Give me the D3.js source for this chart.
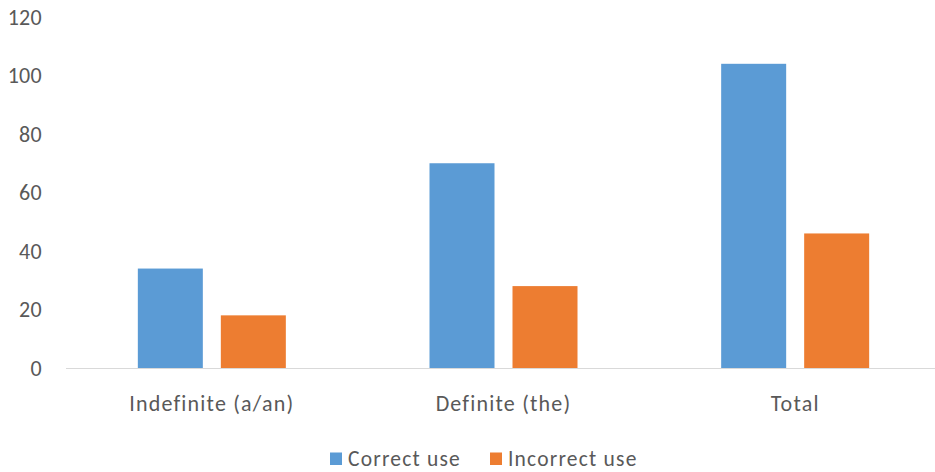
<!DOCTYPE html>
<html><head><meta charset="utf-8">
<script src="https://cdn.jsdelivr.net/npm/d3@7"></script>
<style>
html,body{margin:0;padding:0;background:#fff;}
text{font-family:Carlito,"Liberation Sans",Arial,sans-serif;fill:#595959;}
</style></head>
<body><svg id="c" width="935" height="472"></svg>
<script>
const categories = ["Indefinite (a/an)", "Definite (the)", "Total"];
const seriesNames = ["Correct use", "Incorrect use"];
const correctUse = [34, 70, 104];
const incorrectUse = [18, 28, 46];
const yTicks = [0, 20, 40, 60, 80, 100, 120];
const colors = ["#5B9BD5", "#ED7D31"];

const svg = d3.select("#c");
const x = d3.scaleBand().domain(categories).range([66, 941]).paddingInner(0).paddingOuter(0);
const y = d3.scaleLinear().domain([0, 120]).range([368, 17]);
const barW = 65, gap = 18;
const sub = d3.scaleBand().domain(seriesNames).range([0, 2*barW+gap]).paddingInner(gap/(barW+gap));
const series = [correctUse, incorrectUse];

// axis line
svg.append("line").attr("x1", 66).attr("x2", 935).attr("y1", y(0)+0.5).attr("y2", y(0)+0.5)
  .attr("stroke", "#D9D9D9").attr("stroke-width", 1);

// y tick labels
svg.append("g").selectAll("text").data(yTicks).join("text")
  .attr("x", 42).attr("y", d => y(d)).attr("dy", "0.35em").attr("text-anchor", "end")
  .attr("font-size", 22).attr("letter-spacing", 0.3).text(d => d);

// bars
series.forEach((vals, si) => {
  svg.append("g").selectAll("rect").data(categories).join("rect")
    .attr("x", (c) => x(c) + x.bandwidth()/2 - (2*barW+gap)/2 + sub(seriesNames[si]))
    .attr("width", sub.bandwidth())
    .attr("y", (c, i) => y(vals[i]))
    .attr("height", (c, i) => y(0) - y(vals[i]))
    .attr("fill", colors[si]);
});

// category labels
svg.append("g").selectAll("text").data(categories).join("text")
  .attr("x", c => x(c) + x.bandwidth()/2).attr("y", 403).attr("dy", "0.35em")
  .attr("text-anchor", "middle").attr("font-size", 22).attr("letter-spacing", 1.2).text(c => c);

// legend
const legX = [330, 490];
seriesNames.forEach((n, i) => {
  svg.append("rect").attr("x", legX[i]).attr("y", 452.5).attr("width", 12).attr("height", 12.5).attr("fill", colors[i]);
  svg.append("text").attr("x", legX[i] + 18).attr("y", 458.5).attr("dy", "0.35em")
    .attr("font-size", 21.5).attr("letter-spacing", 1.2).text(n);
});
</script></body></html>
